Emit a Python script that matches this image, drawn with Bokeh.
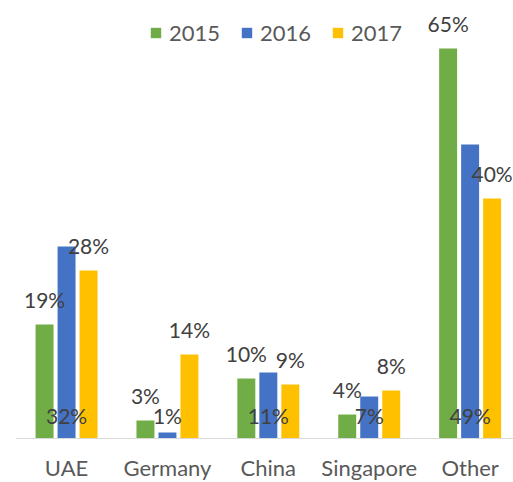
from bokeh.plotting import figure
from bokeh.models import ColumnDataSource, LabelSet, Legend, LegendItem, FixedTicker, Range1d
from bokeh.core.properties import value
from bokeh.transform import dodge
from bokeh.embed import file_html
from bokeh.resources import INLINE

categories = ["UAE", "Germany", "China", "Singapore", "Other"]
years = ["2015", "2016", "2017"]
v2015 = [19, 3, 10, 4, 65]
v2016 = [32, 1, 11, 7, 49]
v2017 = [28, 14, 9, 8, 40]
colors = ["#70AD47", "#4472C4", "#FFC000"]

p = figure(width=513, height=482, output_backend="svg", toolbar_location=None,
           x_range=Range1d(-0.506, 4.43), y_range=Range1d(-7.33, 71),
           y_axis_location=None, min_border_left=15, min_border_right=0,
           min_border_top=12, min_border_bottom=0)
p.outline_line_color = None
p.xgrid.visible = False
p.ygrid.visible = False
p.background_fill_color = "white"

idx = list(range(len(categories)))
offsets = [-0.218, 0.0, 0.218]
series = [v2015, v2016, v2017]
renderers = []
for year, vals, col, off in zip(years, series, colors, offsets):
    lab_y = [0] * len(vals) if year == "2016" else vals
    src = ColumnDataSource(dict(x=idx, top=vals, ly=lab_y,
                                txt=[f"{v}%" for v in vals]))
    r = p.vbar(x=dodge("x", off), top="top", bottom=0, width=0.178, source=src,
               fill_color=col, line_color=None)
    renderers.append(r)
    ls = LabelSet(x=dodge("x", off), y="ly", text="txt", source=src,
                  text_align="center", text_baseline="alphabetic",
                  y_offset=15 if year == "2016" else 17,
                  text_font=value("Lato"), text_font_size=value("21px"),
                  text_color=value("#404040"))
    p.add_layout(ls)

legend = Legend(items=[LegendItem(label=y, renderers=[r]) for y, r in zip(years, renderers)],
                orientation="horizontal", location=(134, 436),
                glyph_width=13, glyph_height=13, label_standoff=7, spacing=20,
                padding=0, margin=0, border_line_color=None,
                background_fill_alpha=0,
                label_text_font="Lato", label_text_font_size="22px",
                label_text_color="#595959")
p.add_layout(legend)

ax = p.xaxis[0]
ax.fixed_location = 0
ax.ticker = FixedTicker(ticks=idx)
ax.major_label_overrides = {i: c for i, c in zip(idx, categories)}
ax.axis_line_color = "#D9D9D9"
ax.axis_line_width = 1
ax.major_tick_line_color = None
ax.minor_tick_line_color = None
ax.major_tick_out = 0
ax.major_tick_in = 0
ax.major_label_standoff = 15
ax.major_label_text_font = "Lato"
ax.major_label_text_font_size = "22px"
ax.major_label_text_color = "#595959"

open("out.html", "w").write(file_html(p, INLINE))
